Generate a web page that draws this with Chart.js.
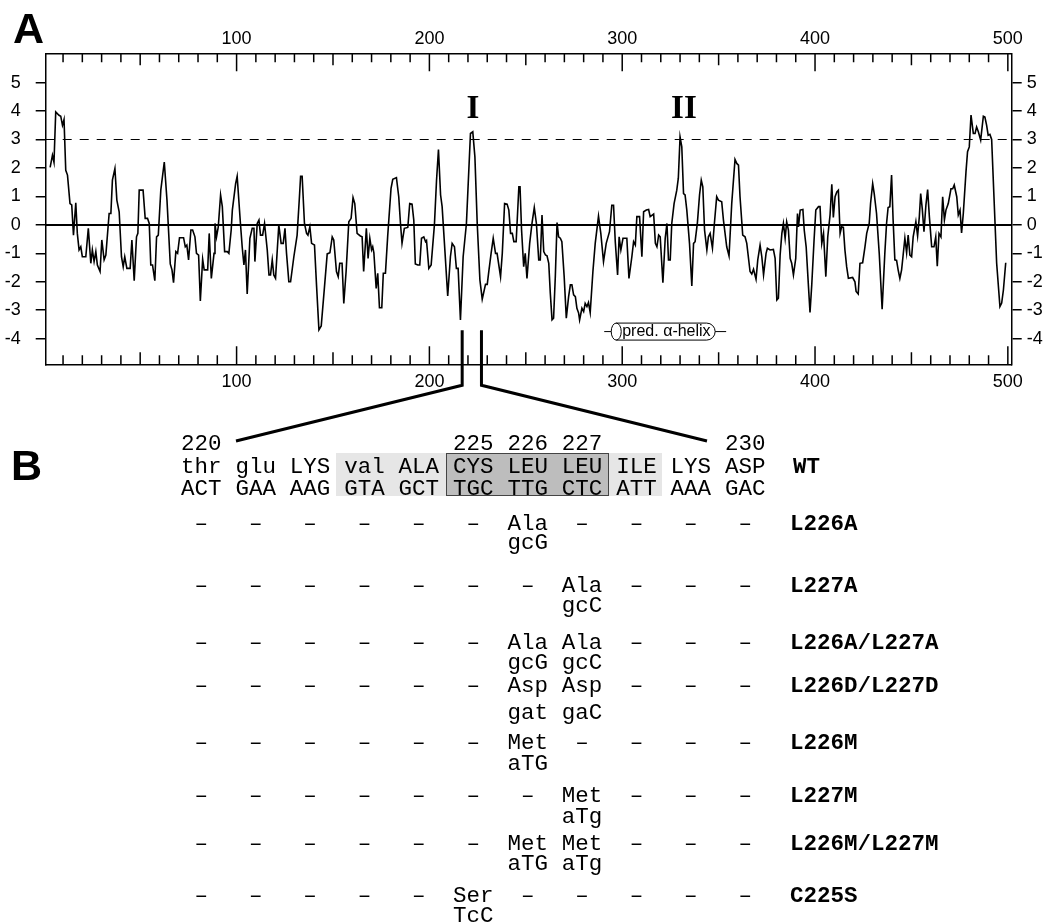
<!DOCTYPE html>
<html>
<head>
<meta charset="utf-8">
<script src="https://cdn.jsdelivr.net/npm/chart.js@4.4.1/dist/chart.umd.min.js"></script>
<style>
  body { margin: 0; background: #fff; }
  #page { position: relative; width: 1051px; height: 922px; overflow: hidden; }
  #chart { position: absolute; left: 0; top: 0; }
  .panel { position: absolute; font: bold 43px "Liberation Sans", Arial, sans-serif; line-height: 1; }
  .cell { position: absolute; font-family: "Liberation Mono", "DejaVu Sans Mono", monospace; font-size: 22.5px; line-height: 1; white-space: pre; color: #000; }
  .cell.c { text-align: center; }
  .cell.b { font-weight: bold; }
  .box { position: absolute; }
</style>
</head>
<body>
<div id="page">
  <canvas id="chart" width="1051" height="922"></canvas>
  <div class="panel" style="left:13px; top:7px;">A</div>
  <div class="panel" style="left:11px; top:444px;">B</div>
  <div id="table"></div>
</div>
<script>
// hydropathy profile (residue number, value)
const residue = [
  3.3, 4.5, 5.3, 6.2, 7.9, 8.8, 9.7, 10.5, 11.4, 12.3, 13.6, 14.5, 15.4, 16.6, 17.4, 18.3, 19.2, 20.0, 21.8, 23.1,
  24.4, 25.2, 26.1, 27.0, 27.8, 29.2, 30.1, 31.3, 32.2, 33.9, 34.8, 35.6, 36.9, 37.9, 39.1, 40.3, 41.2, 42.0, 43.1, 44.8,
  45.7, 46.9, 48.1, 48.8, 49.5, 51.5, 52.6, 53.8, 54.7, 55.5, 56.4, 57.6, 58.5, 59.4, 60.7, 62.5, 63.9, 65.6, 66.5, 67.3,
  68.5, 69.4, 70.4, 72.5, 73.4, 74.2, 75.1, 76.3, 77.2, 78.4, 79.2, 80.3, 81.2, 82.4, 83.2, 85.0, 85.8, 86.9, 88.3, 88.8,
  89.6, 90.5, 91.7, 92.6, 93.8, 95.2, 96.0, 97.2, 97.8, 99.5, 100.3, 102.0, 102.9, 103.8, 104.6, 105.5, 106.9, 108.1, 109.0, 109.5,
  110.7, 111.6, 112.4, 113.5, 114.5, 115.9, 116.8, 117.6, 118.5, 119.3, 120.2, 121.9, 123.1, 124.2, 125.1, 125.9, 127.1, 128.0, 129.7, 131.4,
  132.6, 133.2, 134.0, 135.2, 136.3, 137.0, 138.0, 138.9, 140.4, 141.5, 142.7, 143.9, 145.6, 147.0, 148.4, 149.6, 150.4, 151.8, 152.7, 153.5,
  154.7, 155.6, 156.8, 158.2, 159.4, 160.4, 161.3, 162.5, 164.2, 165.1, 165.9, 167.3, 168.2, 169.1, 170.0, 170.6, 171.2, 172.4, 173.2, 174.1,
  175.3, 176.1, 177.2, 178.4, 180.1, 181.0, 182.9, 184.1, 185.0, 185.8, 187.0, 188.8, 189.8, 191.0, 191.9, 192.7, 194.0, 195.0, 195.9, 197.1,
  198.0, 198.5, 199.7, 200.9, 202.6, 203.7, 204.7, 205.8, 206.6, 207.8, 209.5, 210.9, 211.8, 213.0, 214.0, 214.9, 216.1, 217.5, 219.2, 221.3,
  222.5, 223.6, 224.8, 226.2, 227.4, 229.1, 230.0, 230.8, 232.0, 233.1, 234.3, 235.1, 236.9, 237.8, 239.0, 240.3, 241.2, 242.1, 243.0, 243.8,
  245.0, 246.4, 247.0, 247.8, 248.9, 249.7, 250.6, 252.0, 253.2, 254.4, 255.5, 256.7, 257.5, 258.4, 259.3, 260.2, 261.0, 261.9, 262.7, 263.6,
  264.4, 265.3, 266.2, 267.0, 267.9, 268.7, 269.9, 271.0, 272.2, 273.1, 273.9, 274.8, 275.7, 276.5, 277.4, 277.9, 279.1, 280.0, 280.8, 281.7,
  282.5, 283.4, 284.8, 286.0, 287.7, 288.9, 290.3, 291.7, 292.9, 293.4, 294.6, 295.5, 296.4, 297.6, 298.4, 299.3, 300.4, 302.4, 303.5, 305.0,
  305.9, 306.8, 307.6, 309.0, 310.2, 311.1, 312.5, 313.7, 314.5, 316.3, 317.2, 318.0, 318.9, 319.7, 321.1, 322.3, 323.2, 324.0, 324.9, 325.7,
  326.9, 328.3, 329.1, 330.0, 330.9, 331.8, 332.6, 333.5, 334.9, 336.1, 337.0, 337.8, 339.0, 340.1, 341.0, 341.8, 342.7, 343.9, 344.7, 345.6,
  346.8, 347.8, 349.0, 349.9, 351.6, 352.5, 354.2, 355.4, 356.8, 358.5, 359.4, 360.3, 361.1, 362.5, 363.7, 364.6, 366.3, 367.2, 368.1, 369.4,
  370.3, 371.5, 372.4, 373.3, 374.6, 375.3, 376.7, 378.4, 379.3, 380.2, 381.0, 381.9, 382.8, 383.6, 384.5, 385.3, 386.2, 387.1, 387.9, 388.8,
  390.0, 390.9, 391.4, 392.3, 393.7, 394.4, 395.4, 396.6, 397.4, 398.3, 399.5, 400.4, 401.8, 402.6, 403.5, 404.4, 405.6, 406.6, 407.8, 408.7,
  409.5, 410.4, 411.3, 412.1, 413.0, 413.8, 414.7, 415.5, 416.4, 417.3, 419.5, 420.7, 421.3, 422.4, 423.3, 424.7, 425.9, 426.8, 428.1, 428.8,
  429.9, 430.7, 431.9, 433.3, 434.8, 436.2, 437.1, 437.9, 438.8, 439.7, 440.5, 441.4, 442.3, 443.1, 444.0, 444.9, 445.7, 446.6, 447.5, 448.3,
  449.2, 450.1, 450.9, 452.3, 453.2, 454.1, 454.8, 455.6, 456.5, 457.5, 458.4, 459.3, 460.5, 461.7, 462.6, 463.4, 464.3, 465.3, 466.2, 467.1,
  467.9, 469.1, 470.5, 471.4, 472.2, 473.5, 474.3, 475.2, 476.0, 476.9, 478.3, 479.1, 480.0, 480.9, 482.1, 483.0, 483.8, 484.7, 485.9, 487.3,
  488.1, 489.0, 489.8, 490.7, 491.6, 492.8, 494.2, 495.9, 496.8, 497.7, 498.9
];
const hydropathy = [
  2.02, 2.45, 2.2, 3.97, 3.85, 3.82, 3.5, 3.7, 1.92, 1.75, 0.75, 0.7, -0.36, 0.78, -0.3, -0.88, -0.77, -1.12, -1.12, -0.12,
  -1.35, -0.88, -1.29, -0.94, -1.41, -1.64, -0.53, -1.23, -1.06, 0.4, 0.4, 1.57, 1.98, 0.87, 0.46, -1.12, -1.47, -1.12, -1.53, -1.53,
  -0.53, -1.96, -0.42, -0.3, 1.22, 1.22, 0.23, 0.23, 0.05, -1.41, -1.41, -1.96, -0.42, -0.36, 1.22, 2.21, 0.87, -1.37, -1.58, -2.03,
  -0.94, -1.0, -0.45, -0.45, -0.77, -0.71, -1.23, -0.18, -0.18, -0.42, -1.0, -1.06, -2.67, -1.21, -1.58, -1.58, -0.3, -1.88, -1.0, 0.05,
  -0.42, -0.07, 1.05, 0.64, -0.94, -0.94, -1.0, -0.18, 0.52, 1.45, 1.71, 0.05, -0.77, -1.41, -0.88, -2.43, -0.47, -0.12, -0.12, -1.29,
  0.05, 0.17, -0.36, -0.36, 0.05, -0.88, -1.76, -1.76, -1.23, -1.76, -1.88, 0.0, -0.65, -0.65, -0.12, -1.0, -2.0, -2.0, -1.12, -0.36,
  0.99, 1.71, 1.71, 0.05, -0.3, -0.36, -0.07, -0.65, -0.71, -2.17, -3.69, -3.55, -2.17, -1.02, -0.98, -0.42, -0.53, -1.64, -1.82, -1.35,
  -1.35, -2.76, -1.64, 0.11, 0.23, 0.96, 0.75, -0.3, -0.39, -0.42, -1.64, -0.12, -1.18, -0.47, -0.88, -0.77, -0.98, -2.23, -1.7, -2.91,
  -2.91, -1.7, -1.7, -0.36, 1.28, 1.6, 1.66, 0.99, 0.05, -0.65, -0.12, -0.09, 0.75, 0.73, 0.17, -1.37, -1.41, -1.41, -0.47, -0.42,
  -0.59, -0.55, -1.53, -1.41, 0.0, 1.57, 2.65, 1.05, 0.64, -0.65, -2.5, -1.12, -0.65, -0.77, -1.53, -1.53, -3.34, -1.12, 0.05, 3.21,
  3.27, 2.39, 0.05, -1.94, -2.61, -2.09, -2.09, -1.64, -1.0, -0.47, -1.0, -1.0, -1.82, -1.0, 0.75, 0.73, 0.52, -0.3, -0.3, -0.59,
  -0.59, 1.34, 1.34, -0.18, -1.47, -1.0, -1.88, -0.65, 0.05, 0.61, 0.05, -1.23, -1.23, 0.35, -0.94, -1.06, -1.09, -1.35, -2.4, -3.34,
  -3.28, -1.82, 0.08, -0.42, -0.47, -0.59, -1.82, -3.28, -2.52, -2.11, -2.11, -2.46, -2.52, -2.93, -3.1, -3.34, -2.93, -3.05, -2.76, -2.87,
  -2.73, -3.08, -1.64, -0.65, 0.31, -0.3, -1.29, -0.65, -0.36, -0.24, 0.69, 0.69, -0.59, -1.76, -0.42, -0.88, -0.47, -0.47, -1.88, -1.12,
  -0.59, -0.71, 0.29, 0.29, -1.12, 0.46, 0.52, 0.54, 0.29, 0.38, -0.65, -0.77, -0.36, -0.42, -2.03, -0.47, 0.05, -1.23, -1.23, 0.05,
  0.75, 1.22, 1.64, 3.09, 2.74, 1.1, 1.05, 0.52, -0.65, -2.15, -0.65, -0.59, 0.08, 1.05, 1.57, 1.34, -0.18, -0.88, -0.42, -0.3,
  -0.82, 0.05, 0.99, 0.87, 0.81, 0.17, -0.77, -1.09, 0.75, 2.3, 2.16, 2.1, 0.99, -0.36, -0.42, -0.65, -1.64, -1.73, -1.56, -1.91,
  -1.23, -0.71, -1.12, -1.76, -1.0, -0.82, -0.88, -0.86, -1.18, -2.64, -2.58, -1.06, -0.3, 0.05, -0.47, 0.11, -0.18, -1.18, -1.35, -1.76,
  -1.18, 0.4, -0.07, 0.52, 0.54, -0.18, -0.77, -2.17, -3.08, -2.11, -0.53, 0.52, 0.64, 0.64, -0.65, -0.3, -1.82, -0.42, 0.35, 1.43,
  0.26, 0.99, 1.16, 1.22, -0.3, -0.07, -0.09, -0.88, -1.47, -1.88, -1.85, -2.0, -2.34, -2.43, -1.35, -1.33, -0.77, -0.3, 0.05, 0.75,
  1.45, 1.1, 0.4, -1.0, -2.96, -1.0, 0.05, 0.61, 0.64, 1.75, 0.17, -1.23, -1.25, -1.58, -1.88, -1.58, -1.06, -0.47, -0.98, -0.36,
  -1.06, -1.12, -0.42, 0.11, -0.39, 0.29, 1.1, 0.58, -0.24, 0.69, 1.24, 0.29, -0.77, -0.77, -0.42, -1.45, -0.3, -0.42, 0.99, 0.17,
  0.52, 0.75, 1.27, 1.27, 1.4, 0.99, 0.35, 0.52, -0.28, 0.4, 1.87, 2.57, 2.74, 3.86, 3.21, 3.21, 3.44, 3.27, 2.98, 3.82,
  3.79, 3.5, 3.15, 3.18, 3.0, 0.99, -1.35, -2.87, -2.75, -2.29, -1.33
];

const xMin = 1, xMax = 502;
const yMin = -4.9, yMax = 6.03;
const xTickLabels = [100, 200, 300, 400, 500];
const yTickLabels = [-4, -3, -2, -1, 0, 1, 2, 3, 4, 5];
const threshold = 3;

// annotations on the plot
const peakNames = ['I', 'II'];
const peakResidue = [222.6, 332];
const peakLevel = 4.05;
const helixFrom = 294.3, helixTo = 348.2, helixLevel = -3.75;
const zoomFrom = 217, zoomTo = 227;

// panel B
const numberRow = ['220', '', '', '', '', '225', '226', '227', '', '', '230'];
const wtResidues = ['thr', 'glu', 'LYS', 'val', 'ALA', 'CYS', 'LEU', 'LEU', 'ILE', 'LYS', 'ASP'];
const wtCodons = ['ACT', 'GAA', 'AAG', 'GTA', 'GCT', 'TGC', 'TTG', 'CTC', 'ATT', 'AAA', 'GAC'];
const mutantNames = ['L226A', 'L227A', 'L226A/L227A', 'L226D/L227D', 'L226M', 'L227M', 'L226M/L227M', 'C225S'];
const mutantResidues = [
  ['–', '–', '–', '–', '–', '–', 'Ala', '–', '–', '–', '–'],
  ['–', '–', '–', '–', '–', '–', '–', 'Ala', '–', '–', '–'],
  ['–', '–', '–', '–', '–', '–', 'Ala', 'Ala', '–', '–', '–'],
  ['–', '–', '–', '–', '–', '–', 'Asp', 'Asp', '–', '–', '–'],
  ['–', '–', '–', '–', '–', '–', 'Met', '–', '–', '–', '–'],
  ['–', '–', '–', '–', '–', '–', '–', 'Met', '–', '–', '–'],
  ['–', '–', '–', '–', '–', '–', 'Met', 'Met', '–', '–', '–'],
  ['–', '–', '–', '–', '–', 'Ser', '–', '–', '–', '–', '–']
];
const mutantCodons = [
  ['', '', '', '', '', '', 'gcG', '', '', '', ''],
  ['', '', '', '', '', '', '', 'gcC', '', '', ''],
  ['', '', '', '', '', '', 'gcG', 'gcC', '', '', ''],
  ['', '', '', '', '', '', 'gat', 'gaC', '', '', ''],
  ['', '', '', '', '', '', 'aTG', '', '', '', ''],
  ['', '', '', '', '', '', '', 'aTg', '', '', ''],
  ['', '', '', '', '', '', 'aTG', 'aTg', '', '', ''],
  ['', '', '', '', '', 'TcC', '', '', '', '', '']
];

// table layout (pixels)
const colStart = 181, colStep = 54.4, cellWidth = 40.5;
const numberY = 443, wtResY = 466, wtCodonY = 488;
const mutResY = [523.3, 585, 641.7, 685, 741.7, 795, 842.7, 895];
const mutCodonY = [541.7, 605, 661.7, 711.7, 763.3, 816, 863.3, 915];
const labelX = 790;

function buildTable() {
  const table = document.getElementById('table');
  function box(l, t, w, h, style) {
    const d = document.createElement('div');
    d.className = 'box';
    d.style.cssText = `left:${l}px;top:${t}px;width:${w}px;height:${h}px;${style}`;
    table.appendChild(d);
  }
  function cell(txt, left, cy, cls) {
    if (!txt) return;
    const s = document.createElement('div');
    s.className = 'cell ' + (cls || '');
    s.textContent = txt;
    s.style.left = left + 'px';
    s.style.top = (cy - 10) + 'px';
    if (cls && cls.indexOf('c') >= 0) s.style.width = cellWidth + 'px';
    table.appendChild(s);
  }
  box(336, 453, 326, 43, 'background:#e6e6e6;');
  box(445.5, 453, 163, 43, 'background:#bdbdbd;border:1px solid #444;box-sizing:border-box;');

  numberRow.forEach((t, i) => cell(t, colStart + i * colStep, numberY, 'c'));
  wtResidues.forEach((t, i) => cell(t, colStart + i * colStep, wtResY, 'c'));
  wtCodons.forEach((t, i) => cell(t, colStart + i * colStep, wtCodonY, 'c'));
  cell('WT', labelX + 3, wtResY, 'b');

  mutantNames.forEach((name, r) => {
    mutantResidues[r].forEach((t, i) => cell(t, colStart + i * colStep, mutResY[r], 'c'));
    mutantCodons[r].forEach((t, i) => cell(t, colStart + i * colStep, mutCodonY[r], 'c'));
    cell(name, labelX, mutResY[r], 'b');
  });
}
buildTable();

const tickFont = { family: '"Liberation Sans", Arial, sans-serif', size: 18 };

// inward ticks on x axes, peak labels, helix marker and zoom connectors
const extras = {
  id: 'extras',
  afterDraw(chart) {
    const { ctx, chartArea: a, scales: { x, y } } = chart;
    ctx.save();
    ctx.strokeStyle = '#000';
    ctx.fillStyle = '#000';
    ctx.lineWidth = 1.5;
    for (let v = 10; v <= xMax; v += 10) {
      const px = x.getPixelForValue(v);
      const len = v % 100 === 0 ? 18 : (v % 50 === 0 ? 12 : 9);
      ctx.beginPath();
      ctx.moveTo(px, a.top); ctx.lineTo(px, a.top + len);
      ctx.moveTo(px, a.bottom); ctx.lineTo(px, a.bottom - len);
      ctx.stroke();
    }

    ctx.font = 'bold 33px "Liberation Serif", "Times New Roman", serif';
    ctx.textAlign = 'center';
    ctx.textBaseline = 'middle';
    peakNames.forEach((n, i) => ctx.fillText(n, x.getPixelForValue(peakResidue[i]), y.getPixelForValue(peakLevel)));

    // predicted helix cylinder
    const hx0 = x.getPixelForValue(helixFrom), hx1 = x.getPixelForValue(helixTo);
    const hy = y.getPixelForValue(helixLevel), hh = 8.5;
    ctx.lineWidth = 1;
    ctx.beginPath();
    ctx.moveTo(hx0 - 7, hy); ctx.lineTo(hx0, hy);
    ctx.moveTo(hx1, hy); ctx.lineTo(hx1 + 11, hy);
    ctx.stroke();
    ctx.beginPath();
    ctx.moveTo(hx0 + 5, hy - hh);
    ctx.lineTo(hx1 - hh, hy - hh);
    ctx.arc(hx1 - hh, hy, hh, -Math.PI / 2, Math.PI / 2);
    ctx.lineTo(hx0 + 5, hy + hh);
    ctx.stroke();
    ctx.beginPath();
    ctx.ellipse(hx0 + 5, hy, 5, hh, 0, 0, Math.PI * 2);
    ctx.stroke();
    ctx.font = '16px "Liberation Sans", Arial, sans-serif';
    ctx.textAlign = 'left';
    ctx.fillText('pred. α-helix', hx0 + 11, hy + 0.5);

    // zoom connectors to panel B
    const bx0 = x.getPixelForValue(zoomFrom), bx1 = x.getPixelForValue(zoomTo);
    const top = y.getPixelForValue(-3.7), foot = a.bottom + 21;
    ctx.lineWidth = 3;
    ctx.beginPath();
    ctx.moveTo(bx0, top); ctx.lineTo(bx0, foot); ctx.lineTo(236, 441);
    ctx.moveTo(bx1, top); ctx.lineTo(bx1, foot); ctx.lineTo(707, 441);
    ctx.stroke();
    ctx.restore();
  }
};

function xAxis(position, h, pad) {
  return {
    type: 'linear', position, min: xMin, max: xMax,
    afterBuildTicks: s => { s.ticks = xTickLabels.map(v => ({ value: v })); },
    afterFit: s => { s.height = h; },
    ticks: { font: tickFont, color: '#000', padding: pad, maxRotation: 0, autoSkip: false },
    grid: { display: true, drawOnChartArea: false, drawTicks: false },
    border: { display: true, color: '#000', width: 1.5 }
  };
}
function yAxis(position, w, pad) {
  return {
    type: 'linear', position, min: yMin, max: yMax,
    afterBuildTicks: s => { s.ticks = yTickLabels.map(v => ({ value: v })); },
    afterFit: s => { s.width = w; },
    ticks: { font: tickFont, color: '#000', padding: pad },
    grid: { display: true, drawOnChartArea: false, drawTicks: true, tickLength: 10, color: '#000', lineWidth: 1.5 },
    border: { display: true, color: '#000', width: 1.5 }
  };
}

new Chart(document.getElementById('chart'), {
  type: 'line',
  data: {
    datasets: [
      {
        data: residue.map((r, i) => ({ x: r, y: hydropathy[i] })),
        borderColor: '#000', borderWidth: 1.6, pointRadius: 0, tension: 0, xAxisID: 'x', yAxisID: 'y'
      },
      {
        data: [{ x: xMin, y: 0 }, { x: xMax, y: 0 }],
        borderColor: '#000', borderWidth: 2, pointRadius: 0, xAxisID: 'x', yAxisID: 'y'
      },
      {
        data: [{ x: xMin, y: threshold }, { x: xMax, y: threshold }],
        borderColor: '#000', borderWidth: 1, borderDash: [9, 8], pointRadius: 0, xAxisID: 'x', yAxisID: 'y'
      }
    ]
  },
  options: {
    responsive: false,
    animation: false,
    layout: { padding: { left: 0, right: 0, top: 0, bottom: 922 - 364.3 - 40 } },
    plugins: { legend: { display: false }, tooltip: { enabled: false } },
    scales: {
      x: xAxis('bottom', 40, 7),
      x2: xAxis('top', 53.3, 3),
      y: yAxis('left', 45.7, 15),
      y2: yAxis('right', 1051 - 1011.7, 5)
    }
  },
  plugins: [extras]
});
</script>
</body>
</html>
